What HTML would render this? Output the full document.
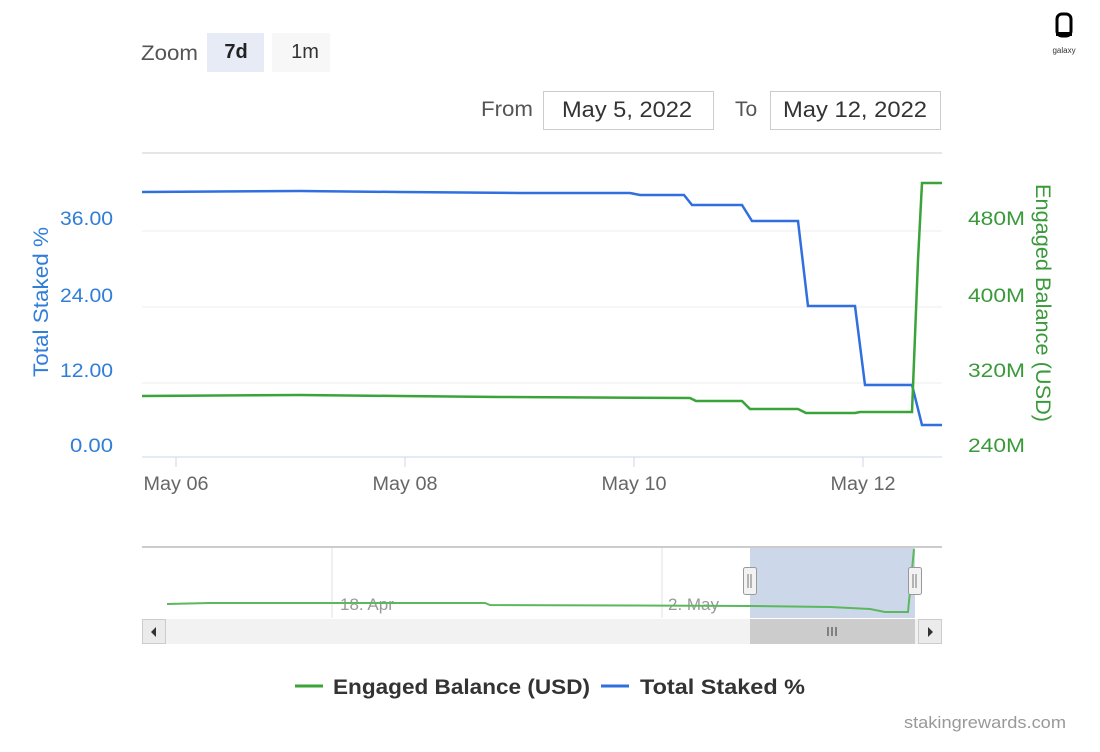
<!DOCTYPE html>
<html><head><meta charset="utf-8"><style>
body{margin:0;background:#fff;width:1100px;height:747px;overflow:hidden}
svg{font-family:"Liberation Sans",sans-serif}
</style></head><body>
<svg width="1100" height="747" viewBox="0 0 1100 747">
<rect x="1057" y="14" width="14" height="22" rx="5" fill="none" stroke="#000" stroke-width="3"/>
<rect x="1056" y="32" width="16" height="4" fill="#000"/>
<text x="1064" y="53" font-size="8" text-anchor="middle" fill="#333">galaxy</text>
<text x="141" y="60" font-size="21" fill="#555" textLength="57" lengthAdjust="spacingAndGlyphs">Zoom</text>
<rect x="207" y="33" width="57" height="39" fill="#e6ebf5"/>
<text x="236" y="58" font-size="20" font-weight="bold" fill="#222" text-anchor="middle">7d</text>
<rect x="272" y="33" width="58" height="39" fill="#f7f7f7"/>
<text x="305" y="58" font-size="20" fill="#333" text-anchor="middle">1m</text>
<text x="481" y="116" font-size="21" fill="#555" textLength="52" lengthAdjust="spacingAndGlyphs">From</text>
<rect x="543.5" y="91.5" width="170" height="38" fill="#fff" stroke="#ccc"/>
<text x="562" y="117" font-size="22" fill="#333" textLength="130" lengthAdjust="spacingAndGlyphs">May 5, 2022</text>
<text x="735" y="116" font-size="21" fill="#555">To</text>
<rect x="770.5" y="91.5" width="170" height="38" fill="#fff" stroke="#ccc"/>
<text x="783" y="117" font-size="22" fill="#333" textLength="144" lengthAdjust="spacingAndGlyphs">May 12, 2022</text>
<line x1="142" y1="153" x2="942" y2="153" stroke="#e6e6e6" stroke-width="2"/>
<g stroke="#ececec"><line x1="142" y1="231" x2="942" y2="231"/><line x1="142" y1="307" x2="942" y2="307"/><line x1="142" y1="383" x2="942" y2="383"/></g>
<line x1="142" y1="457" x2="942" y2="457" stroke="#ccd6eb"/>
<g stroke="#ccd6eb"><line x1="176" y1="457" x2="176" y2="467"/><line x1="405" y1="457" x2="405" y2="467"/><line x1="634" y1="457" x2="634" y2="467"/><line x1="863" y1="457" x2="863" y2="467"/></g>
<g font-size="19" fill="#666" text-anchor="middle"><text x="176" y="490" textLength="65" lengthAdjust="spacingAndGlyphs">May 06</text><text x="405" y="490" textLength="65" lengthAdjust="spacingAndGlyphs">May 08</text><text x="634" y="490" textLength="65" lengthAdjust="spacingAndGlyphs">May 10</text><text x="863" y="490" textLength="65" lengthAdjust="spacingAndGlyphs">May 12</text></g>
<g font-size="19" fill="#2f7ed8"><text x="60" y="225" textLength="53" lengthAdjust="spacingAndGlyphs">36.00</text><text x="60" y="302" textLength="53" lengthAdjust="spacingAndGlyphs">24.00</text><text x="60" y="377" textLength="53" lengthAdjust="spacingAndGlyphs">12.00</text><text x="70" y="452" textLength="43" lengthAdjust="spacingAndGlyphs">0.00</text></g>
<g font-size="19" fill="#3a9a3a"><text x="968" y="225" textLength="57" lengthAdjust="spacingAndGlyphs">480M</text><text x="968" y="302" textLength="57" lengthAdjust="spacingAndGlyphs">400M</text><text x="968" y="377" textLength="57" lengthAdjust="spacingAndGlyphs">320M</text><text x="968" y="452" textLength="57" lengthAdjust="spacingAndGlyphs">240M</text></g>
<text transform="translate(48,302) rotate(-90)" font-size="21" fill="#2f7ed8" text-anchor="middle" textLength="150" lengthAdjust="spacingAndGlyphs">Total Staked %</text>
<text transform="translate(1036,303) rotate(90)" font-size="21" fill="#3a9a3a" text-anchor="middle" textLength="238" lengthAdjust="spacingAndGlyphs">Engaged Balance (USD)</text>
<polyline fill="none" stroke="#2f6fe0" stroke-width="2.5" points="142,192 300,191 400,192 520,193 630,193 640,195 684,195 692,205 742,205 752,221 798,221 808,306 855,306 865,385 912,385 922,425 942,425"/>
<polyline fill="none" stroke="#3aa33a" stroke-width="2.5" points="142,396 300,395 400,396 500,397 690,398 696,401 742,401 750,409 798,409 806,413 855,413 860,412 912,412 918,260 922,183 942,183"/>
<line x1="142" y1="547" x2="942" y2="547" stroke="#ccc" stroke-width="2"/>
<rect x="750" y="548" width="165" height="70" fill="#cdd7ea"/>
<g stroke="#e0e0e0"><line x1="332" y1="548" x2="332" y2="618"/><line x1="662" y1="548" x2="662" y2="618"/></g>
<g font-size="17" fill="#999"><text x="340" y="610">18. Apr</text><text x="668" y="610">2. May</text></g>
<polyline fill="none" stroke="#5cb85c" stroke-width="2" points="167,604 210,603 485,603 490,605 750,606 830,607 870,609 885,612 908,612 912,570 914,549"/>
<rect x="743.5" y="567.5" width="13" height="27" rx="2" fill="#f2f2f2" stroke="#999"/>
<rect x="908.5" y="567.5" width="13" height="27" rx="2" fill="#f2f2f2" stroke="#999"/>
<g stroke="#777"><line x1="748" y1="574" x2="748" y2="588"/><line x1="751" y1="574" x2="751" y2="588"/><line x1="913" y1="574" x2="913" y2="588"/><line x1="916" y1="574" x2="916" y2="588"/></g>
<rect x="142" y="619" width="800" height="25" fill="#f2f2f2"/>
<rect x="750" y="619" width="165" height="25" fill="#cccccc"/>
<rect x="142.5" y="619.5" width="23" height="24" fill="#ebebeb" stroke="#ccc"/>
<rect x="918.5" y="619.5" width="23" height="24" fill="#ebebeb" stroke="#ccc"/>
<path d="M156,627 L151,632 L156,637Z M928,627 L933,632 L928,637Z" fill="#333"/>
<g stroke="#333"><line x1="828" y1="627" x2="828" y2="636"/><line x1="832" y1="627" x2="832" y2="636"/><line x1="836" y1="627" x2="836" y2="636"/></g>
<line x1="295" y1="686" x2="323" y2="686" stroke="#3aa33a" stroke-width="3"/>
<text x="333" y="694" font-size="21" font-weight="bold" fill="#333" textLength="257" lengthAdjust="spacingAndGlyphs">Engaged Balance (USD)</text>
<line x1="601" y1="686" x2="629" y2="686" stroke="#2f6fe0" stroke-width="3"/>
<text x="640" y="694" font-size="21" font-weight="bold" fill="#333" textLength="165" lengthAdjust="spacingAndGlyphs">Total Staked %</text>
<text x="904" y="728" font-size="17" fill="#999" textLength="162" lengthAdjust="spacingAndGlyphs">stakingrewards.com</text>
</svg>
</body></html>
